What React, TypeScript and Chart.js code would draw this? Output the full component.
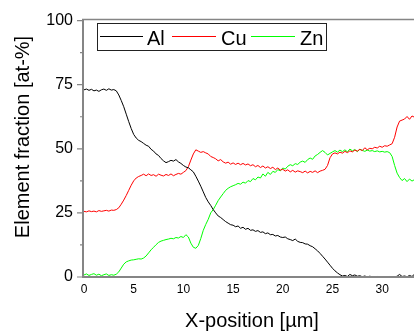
import React, { useEffect, useRef } from "react";
import { Chart, registerables } from "chart.js";

Chart.register(...registerables);

const STEP = 0.25;
const X_TICKS = [0, 5, 10, 15, 20, 25, 30];
const Y_TICKS = [0, 25, 50, 75, 100];
const Y_MINOR = [12.5, 37.5, 62.5, 87.5];
const SERIES_NAMES = ["Al", "Cu", "Zn"];
const X_TITLE = "X-position [µm]";
const Y_TITLE = "Element fraction [at-%]";

const al = [
  73.0, 73.3, 72.8, 73.2, 72.6, 72.9, 72.4, 73.0, 73.3, 72.8, 73.4, 72.9,
  73.1, 72.6, 71.0, 68.8, 66.4, 63.5, 60.6, 57.9, 55.6, 54.2, 53.3, 52.8,
  52.1, 51.4, 51.0, 49.8, 49.1, 48.0, 47.4, 46.2, 45.3, 44.6, 45.0, 45.5,
  45.2, 45.8, 44.9, 44.3, 43.5, 42.9, 42.6, 41.8, 41.0, 39.3, 37.4, 35.4,
  33.2, 31.0, 29.3, 27.9, 26.3, 25.0, 23.8, 23.2, 22.4, 21.6, 21.0, 20.4,
  20.2, 19.6, 19.9, 19.0, 19.4, 18.6, 19.0, 18.2, 18.4, 17.8, 18.1, 17.4,
  17.6, 16.9, 17.2, 16.5, 16.6, 16.0, 16.2, 15.6, 15.4, 15.6, 14.9, 14.6,
  14.2, 14.8, 13.9, 13.5, 13.4, 12.9, 12.8, 12.2, 11.8, 11.0, 10.2, 9.2,
  8.1, 7.0, 5.8, 4.6, 3.4, 2.4, 1.6, 0.9, 0.4, 0.6, 0.2, 1.0,
  0.5, 0.8, 0.3, 0.5, 0.1, 0.4, 0.0, 0.3, 0.1, 0.0, 0.2, 0.0,
  0.0, 0.1, 0.0, 0.2, 0.1, 0.0, 0.3, 1.0, 0.2, 0.4, 0.1, 0.6,
  0.2, 1.1, 0.4,
];

const cu = [
  25.6, 25.4, 25.8, 25.5, 25.7, 25.4, 25.9, 25.6, 25.8, 26.0, 25.7, 26.1,
  26.0, 26.3, 27.0, 28.4, 30.0, 31.8, 33.8, 35.8, 37.5, 38.6, 39.2, 39.6,
  40.1, 39.5, 40.2, 39.6, 39.9, 39.3, 40.1, 39.7, 39.4, 40.0, 39.6, 40.2,
  39.5, 40.0, 40.4, 40.1, 40.8, 41.5, 43.0, 45.6, 48.0, 49.6, 49.1, 48.6,
  48.9, 48.4, 48.0, 47.0, 46.6, 46.1, 45.3, 45.8, 44.9, 44.4, 44.8, 44.0,
  44.5, 43.9, 44.4, 43.8, 44.3, 43.7, 44.1, 43.4, 43.8, 43.0, 43.5, 42.7,
  43.3, 42.5, 43.0, 42.3, 42.8, 41.9, 42.5, 41.7, 42.0, 41.3, 41.8, 41.0,
  41.6, 40.9, 41.4, 41.1, 40.7, 41.3, 40.6, 41.2, 40.8, 41.4, 40.7, 41.3,
  41.6, 42.0, 43.5, 46.5, 48.0, 48.4, 48.0, 48.7, 48.3, 49.0, 48.5, 49.2,
  48.8, 49.5, 49.1, 49.8, 49.3, 50.4, 49.6, 50.2, 50.0, 50.6, 50.3, 51.0,
  50.6, 51.2, 51.0, 51.5, 52.0, 54.5, 58.5, 60.8, 61.2, 61.6, 62.6, 61.5,
  62.8, 62.3, 62.6,
];

const zn = [
  0.8, 1.2, 0.6, 1.0, 1.3, 0.7, 1.1, 0.5, 0.9, 1.2, 0.6, 0.9,
  0.7, 1.1, 2.0, 3.5, 5.0, 5.9, 6.3, 6.6, 6.7, 6.9, 7.1, 7.0,
  7.4, 8.2, 9.4, 10.6, 11.6, 12.6, 13.5, 14.0, 14.3, 14.6, 14.8, 15.1,
  14.9, 15.4, 15.2, 15.8, 15.4, 16.5, 15.6, 13.2, 11.6, 11.2, 12.3, 15.0,
  18.2, 20.5, 22.5, 25.0, 26.3, 28.0, 29.8, 31.2, 32.5, 33.8, 34.6, 35.2,
  35.6, 36.0, 36.5, 36.2, 37.0, 36.6, 37.6, 37.2, 38.4, 37.9, 39.0, 38.6,
  40.2, 39.3, 40.8, 40.0, 41.2, 40.8, 41.9, 41.4, 42.5, 42.1, 43.2, 43.8,
  43.4, 44.2, 43.9, 44.8, 45.2, 44.7, 45.8, 46.4, 45.9, 47.2, 47.8, 48.6,
  49.3, 48.6, 47.6, 48.2, 48.8, 49.3, 48.7, 49.5, 48.9, 49.6, 48.8, 49.9,
  49.2, 49.7, 48.9, 49.8, 49.4, 49.0, 49.5, 49.1, 49.3, 48.9, 49.2, 48.8,
  49.0, 48.7, 48.9, 48.5, 47.0, 43.5, 40.5, 38.8, 37.6, 38.4, 37.2, 38.2,
  37.4, 38.0, 37.6,
];

const COLORS = ["#000000", "#ff0000", "#00ff00"];
const FONT = "'Liberation Sans', Arial, sans-serif";
const AXIS_GRAY = "#858585";

function toPoints(vals: number[]) {
  return vals.map((v, i) => ({ x: i * STEP, y: v }));
}

const decorPlugin = {
  id: "decor",
  afterDraw(chart: any) {
    const ctx = chart.ctx as CanvasRenderingContext2D;
    const ca = chart.chartArea;
    const ys = chart.scales.y;
    ctx.save();
    // frame
    ctx.strokeStyle = AXIS_GRAY;
    ctx.lineWidth = 2;
    ctx.beginPath();
    ctx.moveTo(ca.left - 1, ca.top - 1);
    ctx.lineTo(ca.left - 1, ca.bottom);
    ctx.lineTo(chart.width, ca.bottom);
    ctx.stroke();
    ctx.lineWidth = 1.5;
    ctx.beginPath();
    ctx.moveTo(ca.left - 2, ca.top - 1);
    ctx.lineTo(chart.width, ca.top - 1);
    ctx.stroke();
    // y ticks
    ctx.lineWidth = 1.2;
    ctx.beginPath();
    Y_TICKS.forEach((t) => {
      const y = ys.getPixelForValue(t);
      ctx.moveTo(ca.left - 7, y);
      ctx.lineTo(ca.left - 1, y);
    });
    Y_MINOR.forEach((t) => {
      const y = ys.getPixelForValue(t);
      ctx.moveTo(ca.left - 4, y);
      ctx.lineTo(ca.left - 1, y);
    });
    ctx.stroke();

    // axis titles
    ctx.fillStyle = "#000";
    ctx.font = `20px ${FONT}`;
    ctx.textAlign = "center";
    ctx.textBaseline = "middle";
    ctx.fillText(X_TITLE, 252, 321);
    ctx.save();
    ctx.translate(23, 137);
    ctx.rotate(-Math.PI / 2);
    ctx.fillText(Y_TITLE, 0, 0);
    ctx.restore();

    // legend
    ctx.fillStyle = "#fff";
    ctx.fillRect(97.5, 23.5, 229, 27);
    ctx.strokeStyle = "#222";
    ctx.lineWidth = 1;
    ctx.strokeRect(97.5, 23.5, 229, 27);
    const items = [
      { x0: 100, x1: 143, tx: 147 },
      { x0: 172, x1: 216, tx: 221 },
      { x0: 251, x1: 295, tx: 300 },
    ];
    ctx.textAlign = "left";
    ctx.font = `20px ${FONT}`;
    items.forEach((it, i) => {
      ctx.strokeStyle = COLORS[i];
      ctx.beginPath();
      ctx.moveTo(it.x0, 36.5);
      ctx.lineTo(it.x1, 36.5);
      ctx.stroke();
      ctx.fillStyle = "#000";
      ctx.fillText(SERIES_NAMES[i], it.tx, 39);
    });
    ctx.restore();
  },
};

export default function App() {
  const ref = useRef<HTMLCanvasElement | null>(null);
  useEffect(() => {
    if (!ref.current) return;
    const datasets = [al, cu, zn].map((vals, i) => ({
      label: SERIES_NAMES[i],
      data: toPoints(vals),
      borderColor: COLORS[i],
      backgroundColor: COLORS[i],
      borderWidth: 1,
      pointRadius: 0,
      tension: 0,
      fill: false,
    }));
    const chart = new Chart(ref.current, {
      type: "line",
      data: { datasets },
      plugins: [decorPlugin],
      options: {
        animation: false,
        responsive: false,
        devicePixelRatio: 1,
        layout: { padding: { top: 16, right: 0, left: 0, bottom: 0 } },
        plugins: { legend: { display: false }, tooltip: { enabled: false } },
        scales: {
          x: {
            type: "linear",
            min: 0,
            max: 33.2,
            afterBuildTicks: (s: any) => {
              s.ticks = X_TICKS.map((v) => ({ value: v }));
            },
            afterFit: (s: any) => {
              s.height = 56;
            },
            grid: { display: false, drawTicks: false },
            border: { display: false },
            ticks: {
              padding: 5,
              color: "#000",
              font: { family: FONT, size: 12 },
              maxRotation: 0,
            },
          },
          y: {
            type: "linear",
            min: 0,
            max: 100,
            afterBuildTicks: (s: any) => {
              s.ticks = Y_TICKS.map((v) => ({ value: v }));
            },
            afterFit: (s: any) => {
              s.width = 84;
            },
            grid: { display: false, drawTicks: false },
            border: { display: false },
            ticks: {
              padding: 11,
              color: "#000",
              font: { family: FONT, size: 16 },
            },
          },
        },
      },
    });
    return () => chart.destroy();
  }, []);
  return (
    <div style={{ position: "fixed", left: 0, top: 0, width: 414, height: 333, background: "#fff" }}>
      <canvas ref={ref} width={414} height={333} style={{ display: "block" }} />
    </div>
  );
}
